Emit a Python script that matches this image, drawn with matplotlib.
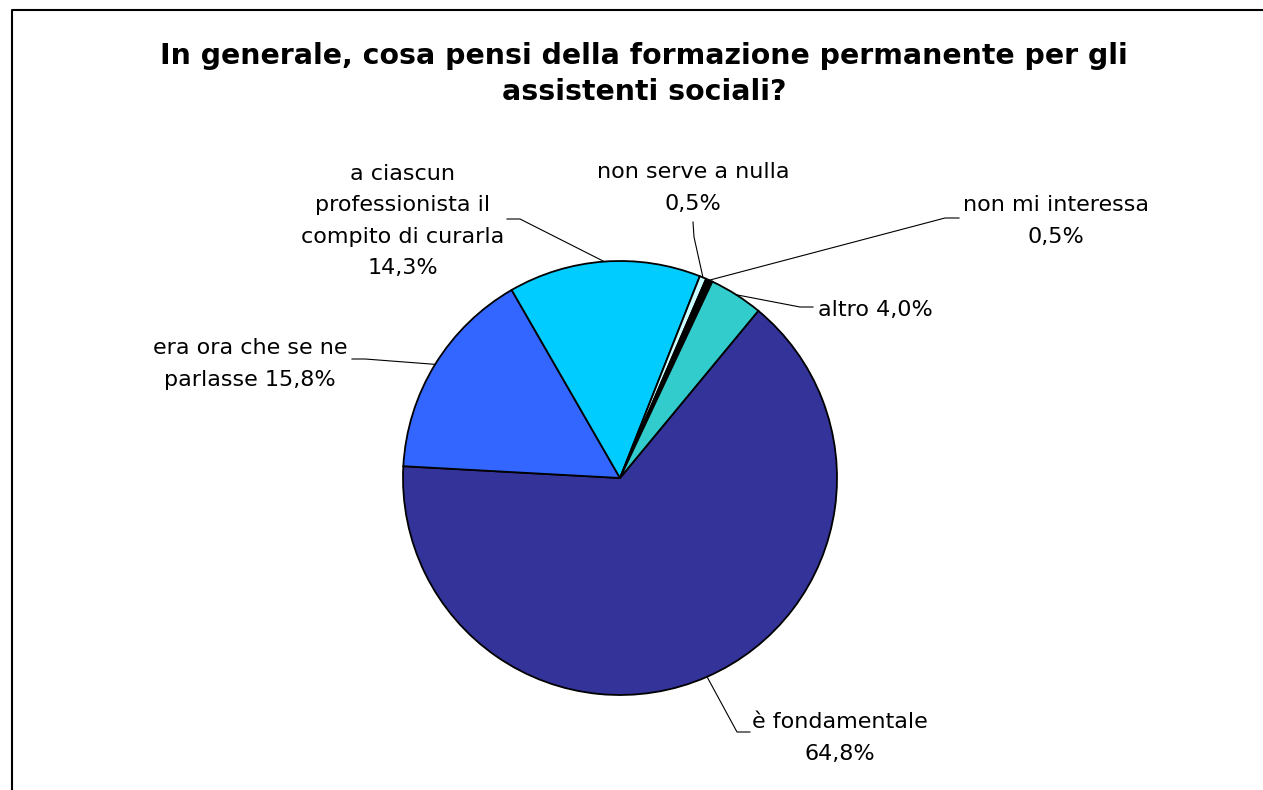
import numpy as np
import matplotlib
matplotlib.use('Agg')
import matplotlib.pyplot as plt
from matplotlib.lines import Line2D

# Risposte alla domanda sulla formazione permanente
categorie = ['è fondamentale', 'era ora che se ne\nparlasse',
             'a ciascun\nprofessionista il\ncompito di curarla',
             'non serve a nulla', 'non mi interessa', 'altro']
percentuali = [64.8, 15.8, 14.3, 0.5, 0.5, 4.0]
separatori = ['\n', ' ', '\n', '\n', '\n', ' ']
colori = ['#333399', '#3366FF', '#00CCFF', '#CCFFFF', '#000000', '#33CCCC']

W, H = 1263, 790

# posizioni delle etichette e dei gomiti delle linee guida (pixel, y dall'alto)
pos_etichette = [(840, 738), (250, 364), (403, 221), (693, 188), (1056, 221), (875, 310)]
gomiti = [[(737, 732), (750, 732)],
          [(365, 359), (352, 359)],
          [(520, 219), (507, 219)],
          [(694, 237), (693, 222)],
          [(945, 218), (959, 218)],
          [(800, 307), (813, 307)]]

centro = (620, H - 478)
raggio = 217

fig = plt.figure(figsize=(W / 100, H / 100), dpi=100)
ax = fig.add_axes([0, 0, 1, 1])

wedges, _ = ax.pie(percentuali, colors=colori, startangle=50.4, counterclock=False,
                   center=centro, radius=raggio,
                   wedgeprops=dict(edgecolor='black', linewidth=1.3))
# pie() imposta i propri limiti: li riporto alla dimensione in pixel
ax.set_xlim(0, W)
ax.set_ylim(0, H)
ax.set_aspect('equal')
ax.axis('off')

for w, nome, val, sep, (lx, ly), gom in zip(wedges, categorie, percentuali, separatori,
                                          pos_etichette, gomiti):
    testo = nome + sep + f'{val:.1f}'.replace('.', ',') + '%'
    ax.text(lx, H - ly, testo, ha='center', va='center', multialignment='center',
            fontsize=16, linespacing=1.7, color='black')
    # linea guida dal bordo dello spicchio
    ang = np.deg2rad((w.theta1 + w.theta2) / 2)
    x0 = centro[0] + raggio * np.cos(ang)
    y0 = centro[1] + raggio * np.sin(ang)
    xs = [x0] + [p[0] for p in gom]
    ys = [y0] + [H - p[1] for p in gom]
    ax.plot(xs, ys, color='black', linewidth=0.8)

fig.text(644 / W, 1 - 74 / H,
         'In generale, cosa pensi della formazione permanente per gli\nassistenti sociali?',
         ha='center', va='center', fontsize=20.4, fontweight='bold', linespacing=1.4)

# cornice del grafico
fig.add_artist(Line2D([12 / W, 12 / W, 1.0], [0.0, 1 - 10 / H, 1 - 10 / H],
                      transform=fig.transFigure, color='black', linewidth=1.5))

fig.savefig('out.png', dpi=100, facecolor='white')
